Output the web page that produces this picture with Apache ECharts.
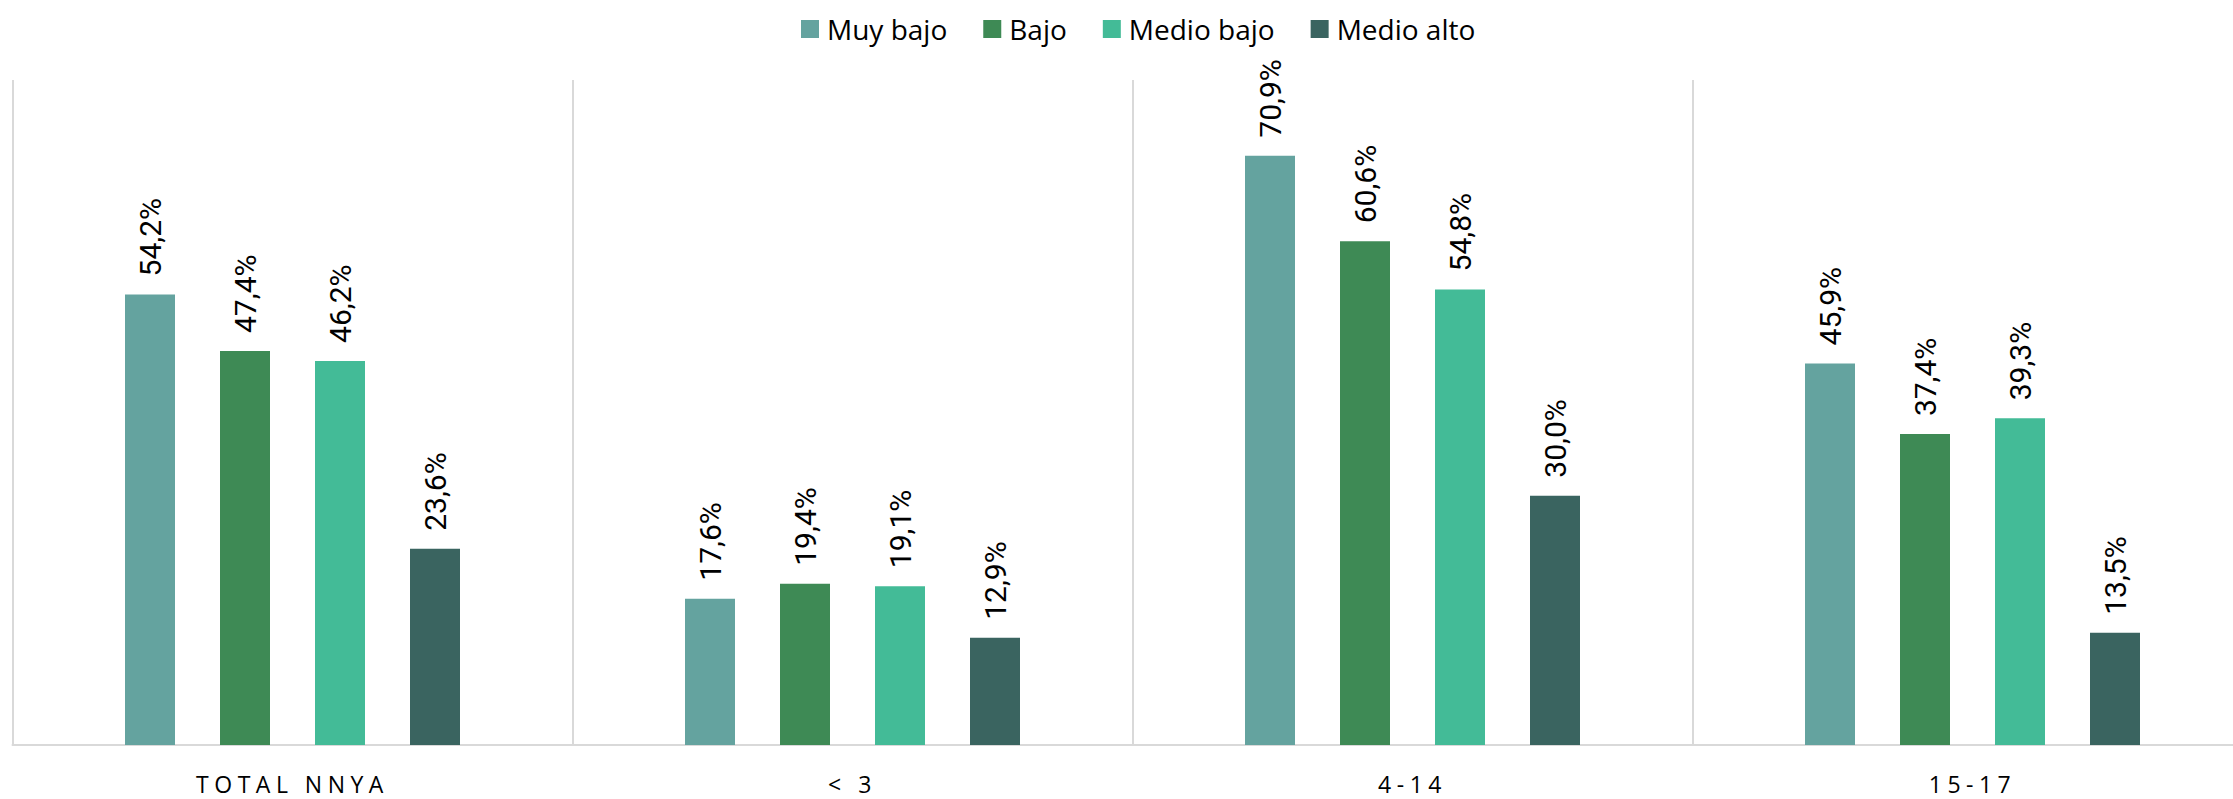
<!DOCTYPE html>
<html>
<head>
<meta charset="utf-8">
<script src="https://cdn.jsdelivr.net/npm/echarts@6/dist/echarts.min.js"></script>
<style>
html,body{margin:0;padding:0;background:#fff;}
#chart{width:2233px;height:799px;}
</style>
</head>
<body>
<div id="chart"></div>
<script>
const categories = ['TOTAL NNYA', '< 3', '4-14', '15-17'];
const seriesNames = ['Muy bajo', 'Bajo', 'Medio bajo', 'Medio alto'];
const muyBajo = [54.2, 17.6, 70.9, 45.9];
const bajo = [47.4, 19.4, 60.6, 37.4];
const medioBajo = [46.2, 19.1, 54.8, 39.3];
const medioAlto = [23.6, 12.9, 30.0, 13.5];
const colors = ['#64A39F', '#3E8A55', '#43BB97', '#3A6460'];

const allValues = [muyBajo, bajo, medioBajo, medioAlto];
const fmt = p => p.value.toFixed(1).replace('.', ',') + '%';

const chart = echarts.init(document.getElementById('chart'), null, { renderer: 'svg' });
chart.setOption({
  animation: false,
  backgroundColor: '#ffffff',
  legend: {
    left: 801,
    top: 15,
    padding: 0,
    itemWidth: 18,
    itemHeight: 18,
    itemGap: 36,
    icon: 'rect',
    textStyle: { fontFamily: 'Open Sans', fontSize: 28, color: '#000', padding: [0, 0, 0, 3] },
    data: seriesNames
  },
  grid: { left: 12.5, width: 2240, top: 80, bottom: 54, containLabel: false, outerBoundsMode: 'none' },
  xAxis: {
    type: 'category',
    data: categories,
    axisLine: { show: true, lineStyle: { color: '#d9d9d9', width: 2 } },
    axisTick: { show: false },
    splitLine: { show: true, interval: 0, lineStyle: { color: '#d9d9d9', width: 2 } },
    axisLabel: { fontFamily: 'Open Sans', fontSize: 23, lineHeight: 23, color: '#000', margin: 27, interval: 0 }
  },
  yAxis: {
    type: 'value',
    min: 0,
    max: 80,
    show: false,
    splitLine: { show: false }
  },
  series: seriesNames.map((name, i) => ({
    name: name,
    type: 'bar',
    data: allValues[i],
    barWidth: 50,
    barGap: '90%',
    itemStyle: { color: colors[i] },
    label: {
      show: true,
      position: 'top',
      rotate: 90,
      align: 'left',
      verticalAlign: 'middle',
      distance: 18,
      fontFamily: 'Roboto',
      fontSize: 30,
      color: '#000',
      formatter: fmt
    }
  }))
});

function spaceCategoryLabels() {
  const texts = document.querySelectorAll('#chart svg text');
  texts.forEach(t => {
    if (categories.indexOf(t.textContent) >= 0) {
      t.setAttribute('letter-spacing', '5.5');
      t.style.letterSpacing = '5.5px';
    }
  });
}
chart.on('finished', spaceCategoryLabels);
setTimeout(spaceCategoryLabels, 0);
setTimeout(spaceCategoryLabels, 100);
</script>
</body>
</html>
